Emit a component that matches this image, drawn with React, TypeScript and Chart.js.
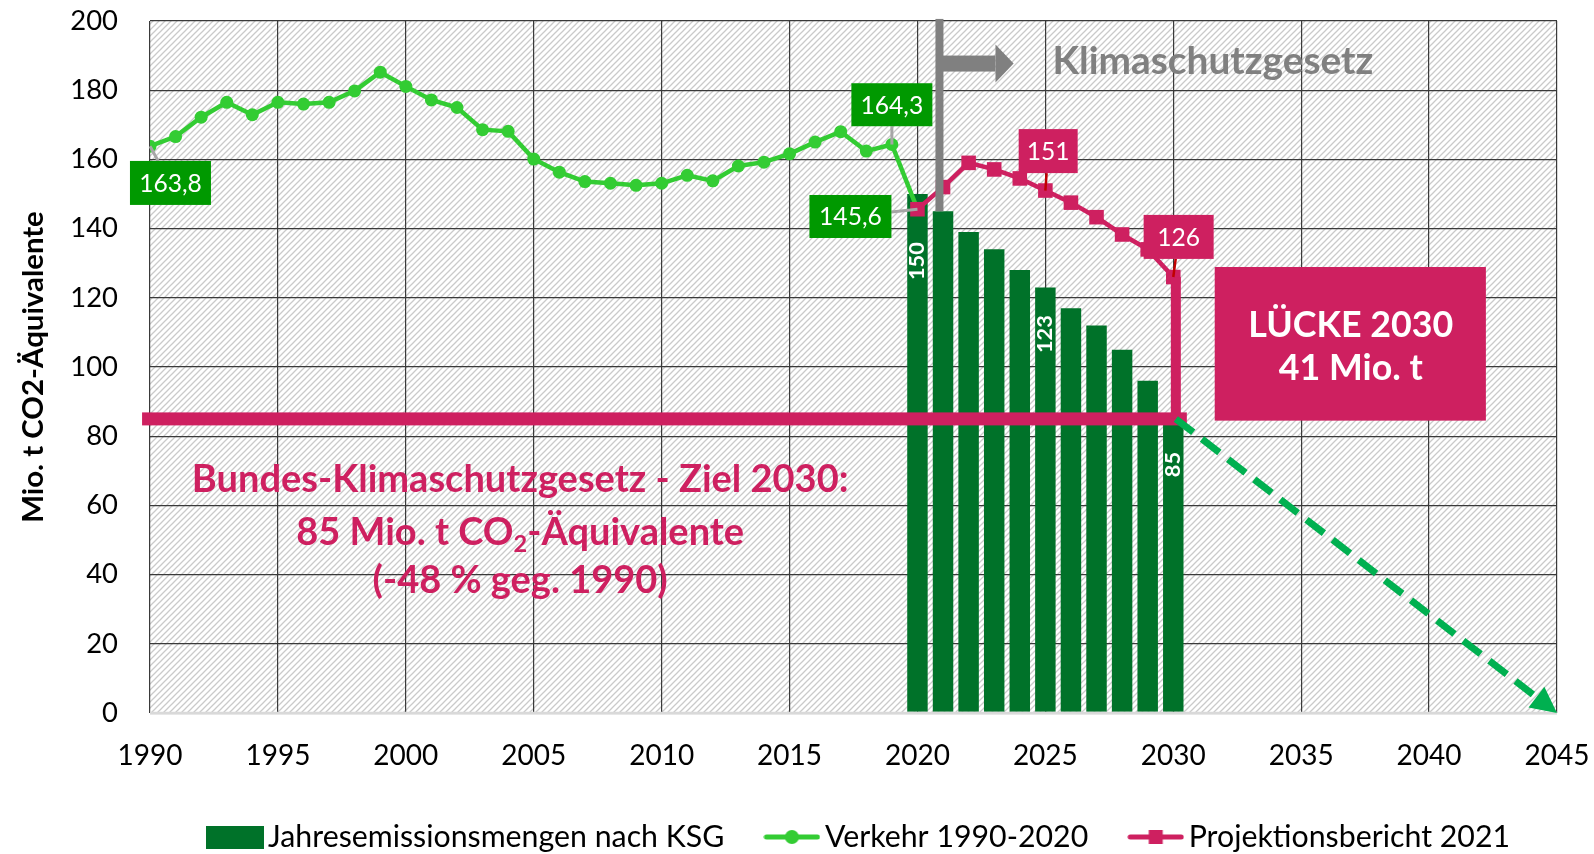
import React, { useEffect, useRef } from 'react';
import { Chart, registerables } from 'chart.js';

Chart.register(...registerables);

const FAMILY = 'Lato, "Open Sans", "Noto Sans", sans-serif';

// ---------------- data ----------------
const VERKEHR_YEARS = [
  1990, 1991, 1992, 1993, 1994, 1995, 1996, 1997, 1998, 1999, 2000, 2001, 2002, 2003, 2004,
  2005, 2006, 2007, 2008, 2009, 2010, 2011, 2012, 2013, 2014, 2015, 2016, 2017, 2018, 2019, 2020,
];
const VERKEHR_VALUES = [
  163.8, 166.6, 172.2, 176.5, 172.9, 176.5, 176.0, 176.5, 179.8, 185.2, 181.1, 177.2, 175.0, 168.6, 168.1,
  160.1, 156.3, 153.6, 153.1, 152.5, 153.1, 155.4, 153.8, 158.1, 159.2, 161.6, 165.0, 168.0, 162.4, 164.3, 145.6,
];
const KSG_YEARS = [2020, 2021, 2022, 2023, 2024, 2025, 2026, 2027, 2028, 2029, 2030];
const KSG_VALUES = [150, 145, 139, 134, 128, 123, 117, 112, 105, 96, 85];
const PROJ_YEARS = [2020, 2021, 2022, 2023, 2024, 2025, 2026, 2027, 2028, 2029, 2030];
const PROJ_VALUES = [145.6, 152.0, 159.0, 157.1, 154.5, 151.0, 147.5, 143.3, 138.3, 134.0, 126.0];

const X_MIN = 1990;
const X_MAX = 2045;
const X_STEP = 5;
const Y_MIN = 0;
const Y_MAX = 200;
const Y_STEP = 20;

const ZIEL_2030 = 85;
const GAP_2030 = 41;
const ZIEL_END_YEAR = 2045;
const ZIEL_END_VALUE = 0;

const LEGEND_LABELS = ['Jahresemissionsmengen nach KSG', 'Verkehr 1990-2020', 'Projektionsbericht 2021'];
const Y_TITLE = 'Mio. t CO2-Äquivalente';
const KSG_TITLE = 'Klimaschutzgesetz';
const ZIEL_LINE_1 = 'Bundes-Klimaschutzgesetz - Ziel 2030:';
const ZIEL_LINE_3 = '(-48 % geg. 1990)';
const GAP_LINE_1 = 'LÜCKE 2030';

const BAR_LABEL_YEARS = [2020, 2025, 2030];

// ---------------- styles / layout ----------------
const W = 1594;
const H = 854;
const BAR_COLOR = '#007229';
const GREEN_LINE = '#33cc33';
const PINK = '#ce2060';
const LABEL_GREEN = '#009900';
const ARROW_GREEN = '#00b050';
const GRAY = '#808080';
const GRID = '#3a3a3a';

const PAD_TOP = 21;
const PLOT_BOTTOM = 713;
const X_AXIS_H = 65;
const Y_AXIS_W = 150;
const PAD_RIGHT = 37;
const LEGEND_CENTER_Y = 837;
const LEGEND_START_X = 205.6;
const LEGEND_ITEM_GAP = 39;
const LEGEND_TEXT_GAP = 4.5;

// annotation placement (data coordinates)
const BAR_LABEL_CENTERS = [130.6, 109.5, 71.8];
const CALLOUTS = [
  { series: 'verkehr', year: 1990, dec: 1, bx: 1990.8, bv: 153.2, w: 81, h: 44 },
  { series: 'verkehr', year: 2019, dec: 1, bx: 2019.0, bv: 175.8, w: 81, h: 43 },
  { series: 'verkehr', year: 2020, dec: 1, bx: 2017.38, bv: 143.5, w: 82, h: 43 },
  { series: 'proj', year: 2025, dec: 0, bx: 2025.11, bv: 162.4, w: 59, h: 44 },
  { series: 'proj', year: 2030, dec: 0, bx: 2030.21, bv: 137.6, w: 70, h: 44 },
];
const GRAY_LINE = { year: 2020.86, top: 200.6, bottom: 145, arrowValue: 187.7, headBase: 2023.05, tip: 2023.76 };
const KSG_TEXT_POS = { year: 2025.28, value: 184.7 };
const TARGET_LINE = { from: 1989.69, to: 2030.53, vx: 2030.1 };
const GAP_BOX = { x0: 2031.62, x1: 2042.22, v0: 128.9, v1: 84.5, cx: 2036.94, b1: 108.8, b2: 96.2 };
const ZIEL_TEXT = { cx: 2004.47, b1: 64.0, b2: 48.6, b3: 34.6 };

function fitSize(text: string, weight: string, target: number): number {
  const c = document.createElement('canvas').getContext('2d')!;
  c.font = `${weight} 100px ${FAMILY}`;
  const w = c.measureText(text).width;
  return Math.round((100 * target) / w * 10) / 10;
}

function font(size: number, weight = 'normal') {
  return `${weight} ${size}px ${FAMILY}`;
}

function makeBarIcon() {
  const c = document.createElement('canvas');
  c.width = 58;
  c.height = 23;
  const g = c.getContext('2d')!;
  g.fillStyle = BAR_COLOR;
  g.fillRect(0, 0, 58, 23);
  return c;
}

function makeLineIcon(color: string, marker: 'circle' | 'rect') {
  const c = document.createElement('canvas');
  c.width = 57;
  c.height = 24;
  const g = c.getContext('2d')!;
  g.strokeStyle = color;
  g.lineWidth = 5;
  g.lineCap = 'round';
  g.beginPath();
  g.moveTo(3, 12);
  g.lineTo(54, 12);
  g.stroke();
  g.fillStyle = color;
  if (marker === 'circle') {
    g.beginPath();
    g.arc(28.5, 12, 7, 0, Math.PI * 2);
    g.fill();
  } else {
    g.fillRect(21.5, 5, 14, 14);
  }
  return c;
}

export default function App() {
  const ref = useRef<HTMLCanvasElement>(null);

  useEffect(() => {
    document.body.style.margin = '0';
    const canvas = ref.current!;

    const yTickSize = fitSize('200', 'normal', 47.7);
    const xTickSize = fitSize('1990', 'normal', 65);
    const legendSize = fitSize(LEGEND_LABELS[0], 'normal', 456.5);
    const yTitleSize = fitSize(Y_TITLE, 'bold', 312);
    const calloutSize = fitSize('164,3', 'normal', 62.7);
    const barLabelSize = fitSize('150', 'bold', 38);
    const zielSize = fitSize(ZIEL_LINE_1, 'bold', 657);
    const gapSize = fitSize(GAP_LINE_1, 'bold', 205);
    const ksgSize = fitSize(KSG_TITLE, 'bold', 321);

    const xLineHeight = xTickSize * 1.2;
    const padBottom = H - PLOT_BOTTOM - X_AXIS_H;

    const icons = [makeBarIcon(), makeLineIcon(GREEN_LINE, 'circle'), makeLineIcon(PINK, 'rect')];

    const seriesValue = (series: string, year: number) =>
      series === 'verkehr'
        ? VERKEHR_VALUES[VERKEHR_YEARS.indexOf(year)]
        : PROJ_VALUES[PROJ_YEARS.indexOf(year)];

    const annot = {
      id: 'annot',
      beforeDraw(chart: any) {
        const { ctx, chartArea: a } = chart;
        const s = 6;
        const tile = document.createElement('canvas');
        tile.width = s;
        tile.height = s;
        const t = tile.getContext('2d')!;
        t.fillStyle = '#ffffff';
        t.fillRect(0, 0, s, s);
        t.strokeStyle = '#cacaca';
        t.lineWidth = 1.3;
        t.beginPath();
        t.moveTo(0, s);
        t.lineTo(s, 0);
        t.moveTo(-s / 2, s / 2);
        t.lineTo(s / 2, -s / 2);
        t.moveTo(s / 2, s * 1.5);
        t.lineTo(s * 1.5, s / 2);
        t.stroke();
        const pat = ctx.createPattern(tile, 'repeat');
        ctx.save();
        ctx.fillStyle = pat;
        ctx.fillRect(a.left, a.top, a.right - a.left, a.bottom - a.top);
        ctx.restore();
      },
      afterDatasetsDraw(chart: any) {
        const { ctx, chartArea: a } = chart;
        const xs = chart.scales.x;
        const ys = chart.scales.y;
        const X = (v: number) => xs.getPixelForValue(v);
        const Y = (v: number) => ys.getPixelForValue(v);
        ctx.save();

        // bottom axis line
        ctx.strokeStyle = '#d9d9d9';
        ctx.lineWidth = 2.5;
        ctx.beginPath();
        ctx.moveTo(a.left, Y(0));
        ctx.lineTo(a.right, Y(0));
        ctx.stroke();

        // bar labels
        ctx.fillStyle = '#ffffff';
        ctx.font = font(barLabelSize, 'bold');
        ctx.textAlign = 'center';
        ctx.textBaseline = 'middle';
        BAR_LABEL_YEARS.forEach((yr, i) => {
          const v = KSG_VALUES[KSG_YEARS.indexOf(yr)];
          ctx.save();
          ctx.translate(X(yr), Y(BAR_LABEL_CENTERS[i]));
          ctx.rotate(-Math.PI / 2);
          ctx.fillText(String(v), 0, 0);
          ctx.restore();
        });

        // gray Klimaschutzgesetz marker line & arrow
        const gx = X(GRAY_LINE.year);
        ctx.fillStyle = GRAY;
        ctx.fillRect(gx - 4, Y(GRAY_LINE.top), 8, Y(GRAY_LINE.bottom) - Y(GRAY_LINE.top));
        const ay = Y(GRAY_LINE.arrowValue);
        const hb = X(GRAY_LINE.headBase);
        const tip = X(GRAY_LINE.tip);
        ctx.fillRect(gx, ay - 8, hb - gx, 16);
        ctx.beginPath();
        ctx.moveTo(hb, ay - 19);
        ctx.lineTo(tip, ay);
        ctx.lineTo(hb, ay + 19);
        ctx.closePath();
        ctx.fill();
        ctx.font = font(ksgSize, 'bold');
        ctx.textAlign = 'left';
        ctx.textBaseline = 'alphabetic';
        ctx.fillText(KSG_TITLE, X(KSG_TEXT_POS.year), Y(KSG_TEXT_POS.value));

        // target line 85
        const ty = Y(ZIEL_2030);
        ctx.fillStyle = PINK;
        ctx.fillRect(X(TARGET_LINE.from), ty - 6.5, X(TARGET_LINE.to) - X(TARGET_LINE.from), 13);
        const lastProj = PROJ_VALUES[PROJ_VALUES.length - 1];
        ctx.fillRect(X(TARGET_LINE.vx) - 5, Y(lastProj), 10, ty - Y(lastProj));

        // dashed green arrow to 2045
        const sx = X(TARGET_LINE.vx);
        const sy = ty;
        const ex = X(ZIEL_END_YEAR);
        const ey = Y(ZIEL_END_VALUE);
        const len = Math.hypot(ex - sx, ey - sy);
        const ux = (ex - sx) / len;
        const uy = (ey - sy) / len;
        const headLen = 26;
        ctx.strokeStyle = ARROW_GREEN;
        ctx.lineWidth = 7;
        ctx.setLineDash([22, 11]);
        ctx.beginPath();
        ctx.moveTo(sx, sy);
        ctx.lineTo(ex - ux * headLen, ey - uy * headLen);
        ctx.stroke();
        ctx.setLineDash([]);
        ctx.fillStyle = ARROW_GREEN;
        ctx.beginPath();
        ctx.moveTo(ex, ey);
        ctx.lineTo(ex - ux * headLen - uy * 13, ey - uy * headLen + ux * 13);
        ctx.lineTo(ex - ux * headLen + uy * 13, ey - uy * headLen - ux * 13);
        ctx.closePath();
        ctx.fill();

        // callouts
        ctx.font = font(calloutSize);
        ctx.textAlign = 'center';
        ctx.textBaseline = 'middle';
        CALLOUTS.forEach((c) => {
          const v = seriesValue(c.series, c.year);
          const px = X(c.year);
          const py = Y(v);
          const bx = X(c.bx);
          const by = Y(c.bv);
          const dx = px - bx;
          const dy = py - by;
          const tx = dx !== 0 ? c.w / 2 / Math.abs(dx) : Infinity;
          const tyy = dy !== 0 ? c.h / 2 / Math.abs(dy) : Infinity;
          const t = Math.min(tx, tyy);
          const isGreen = c.series === 'verkehr';
          if (t < 1) {
            ctx.strokeStyle = isGreen ? '#a6a6a6' : '#c00000';
            ctx.lineWidth = isGreen ? 3 : 2.5;
            ctx.beginPath();
            ctx.moveTo(bx + dx * t, by + dy * t);
            ctx.lineTo(px, py);
            ctx.stroke();
          }
          ctx.fillStyle = isGreen ? LABEL_GREEN : PINK;
          ctx.fillRect(bx - c.w / 2, by - c.h / 2, c.w, c.h);
          ctx.fillStyle = '#ffffff';
          ctx.fillText(v.toFixed(c.dec).replace('.', ','), bx, by + 1);
        });

        // gap box
        ctx.fillStyle = PINK;
        ctx.fillRect(X(GAP_BOX.x0), Y(GAP_BOX.v0), X(GAP_BOX.x1) - X(GAP_BOX.x0), Y(GAP_BOX.v1) - Y(GAP_BOX.v0));
        ctx.fillStyle = '#ffffff';
        ctx.font = font(gapSize, 'bold');
        ctx.textBaseline = 'alphabetic';
        ctx.fillText(GAP_LINE_1, X(GAP_BOX.cx), Y(GAP_BOX.b1));
        ctx.fillText(`${GAP_2030} Mio. t`, X(GAP_BOX.cx), Y(GAP_BOX.b2));

        // Ziel text
        ctx.fillStyle = PINK;
        ctx.font = font(zielSize, 'bold');
        const cx = X(ZIEL_TEXT.cx);
        ctx.fillText(ZIEL_LINE_1, cx, Y(ZIEL_TEXT.b1));
        ctx.fillText(ZIEL_LINE_3, cx, Y(ZIEL_TEXT.b3));
        const partA = `${ZIEL_2030} Mio. t CO`;
        const partSub = '2';
        const partB = '-Äquivalente';
        const wa = ctx.measureText(partA).width;
        const wb = ctx.measureText(partB).width;
        ctx.font = font(zielSize * 0.62, 'bold');
        const wsub = ctx.measureText(partSub).width;
        const total = wa + wsub + wb;
        const start = cx - total / 2;
        const b2 = Y(ZIEL_TEXT.b2);
        ctx.textAlign = 'left';
        ctx.fillText(partSub, start + wa, b2 + zielSize * 0.2);
        ctx.font = font(zielSize, 'bold');
        ctx.fillText(partA, start, b2);
        ctx.fillText(partB, start + wa + wsub, b2);

        ctx.restore();
      },
      afterDraw(chart: any) {
        // legend
        const { ctx } = chart;
        ctx.save();
        ctx.font = font(legendSize);
        ctx.fillStyle = '#000';
        ctx.textAlign = 'left';
        ctx.textBaseline = 'middle';
        let x = LEGEND_START_X;
        LEGEND_LABELS.forEach((text, i) => {
          const ic = icons[i];
          ctx.drawImage(ic, x, LEGEND_CENTER_Y - ic.height / 2);
          x += ic.width + LEGEND_TEXT_GAP;
          ctx.fillText(text, x, LEGEND_CENTER_Y);
          x += ctx.measureText(text).width + LEGEND_ITEM_GAP;
        });
        ctx.restore();
      },
    };

    const chart = new Chart(canvas, {
      type: 'line',
      data: {
        datasets: [
          {
            type: 'line',
            label: LEGEND_LABELS[2],
            data: PROJ_YEARS.map((x, i) => ({ x, y: PROJ_VALUES[i] })),
            borderColor: PINK,
            backgroundColor: PINK,
            borderWidth: 4.5,
            pointStyle: 'rect',
            pointRadius: 10.3,
            pointHoverRadius: 10.3,
            pointBorderWidth: 0,
            pointBackgroundColor: PINK,
            tension: 0,
            order: 1,
          },
          {
            type: 'line',
            label: LEGEND_LABELS[1],
            data: VERKEHR_YEARS.map((x, i) => ({ x, y: VERKEHR_VALUES[i] })),
            borderColor: GREEN_LINE,
            backgroundColor: GREEN_LINE,
            borderWidth: 4.5,
            pointStyle: 'circle',
            pointRadius: 6.5,
            pointHoverRadius: 6.5,
            pointBorderWidth: 0,
            pointBackgroundColor: GREEN_LINE,
            tension: 0,
            order: 2,
          },
          {
            type: 'bar',
            label: LEGEND_LABELS[0],
            data: KSG_YEARS.map((x, i) => ({ x, y: KSG_VALUES[i] })),
            backgroundColor: BAR_COLOR,
            borderWidth: 0,
            barPercentage: 0.8,
            categoryPercentage: 1,
            order: 3,
          },
        ] as any,
      },
      options: {
        responsive: false,
        animation: false,
        devicePixelRatio: 1,
        events: [],
        layout: { padding: { top: PAD_TOP, right: PAD_RIGHT, bottom: padBottom, left: 0 } },
        scales: {
          x: {
            type: 'linear',
            min: X_MIN,
            max: X_MAX,
            offset: false,
            grid: {
              color: GRID,
              lineWidth: 1.2,
              drawTicks: true,
              tickLength: 43 - xLineHeight / 2,
              tickColor: 'rgba(0,0,0,0)',
              offset: false,
            },
            border: { display: false },
            ticks: {
              stepSize: X_STEP,
              color: '#000',
              font: { size: xTickSize, family: FAMILY },
              padding: 0,
              maxRotation: 0,
              autoSkip: false,
              callback: (v: any) => String(v),
            },
            afterFit: (s: any) => {
              s.height = X_AXIS_H;
            },
          },
          y: {
            type: 'linear',
            min: Y_MIN,
            max: Y_MAX,
            grid: {
              color: (c: any) => (c.tick && c.tick.value === 0 ? '#d9d9d9' : GRID),
              lineWidth: (c: any) => (c.tick && c.tick.value === 0 ? 2.5 : 1.2),
              drawTicks: true,
              tickLength: 32,
              tickColor: 'rgba(0,0,0,0)',
            },
            border: { display: false },
            ticks: {
              stepSize: Y_STEP,
              color: '#000',
              font: { size: yTickSize, family: FAMILY },
              padding: 0,
            },
            title: {
              display: true,
              text: Y_TITLE,
              color: '#000',
              font: { size: yTitleSize, weight: 'bold', family: FAMILY },
              padding: { top: 34 - yTitleSize * 0.6, bottom: 0 },
            },
            afterFit: (s: any) => {
              s.width = Y_AXIS_W;
            },
          },
        },
        plugins: {
          tooltip: { enabled: false },
          legend: { display: false },
        },
      } as any,
      plugins: [annot as any],
    });

    return () => chart.destroy();
  }, []);

  return (
    <canvas
      ref={ref}
      width={W}
      height={H}
      style={{ display: 'block', width: W, height: H }}
    />
  );
}
